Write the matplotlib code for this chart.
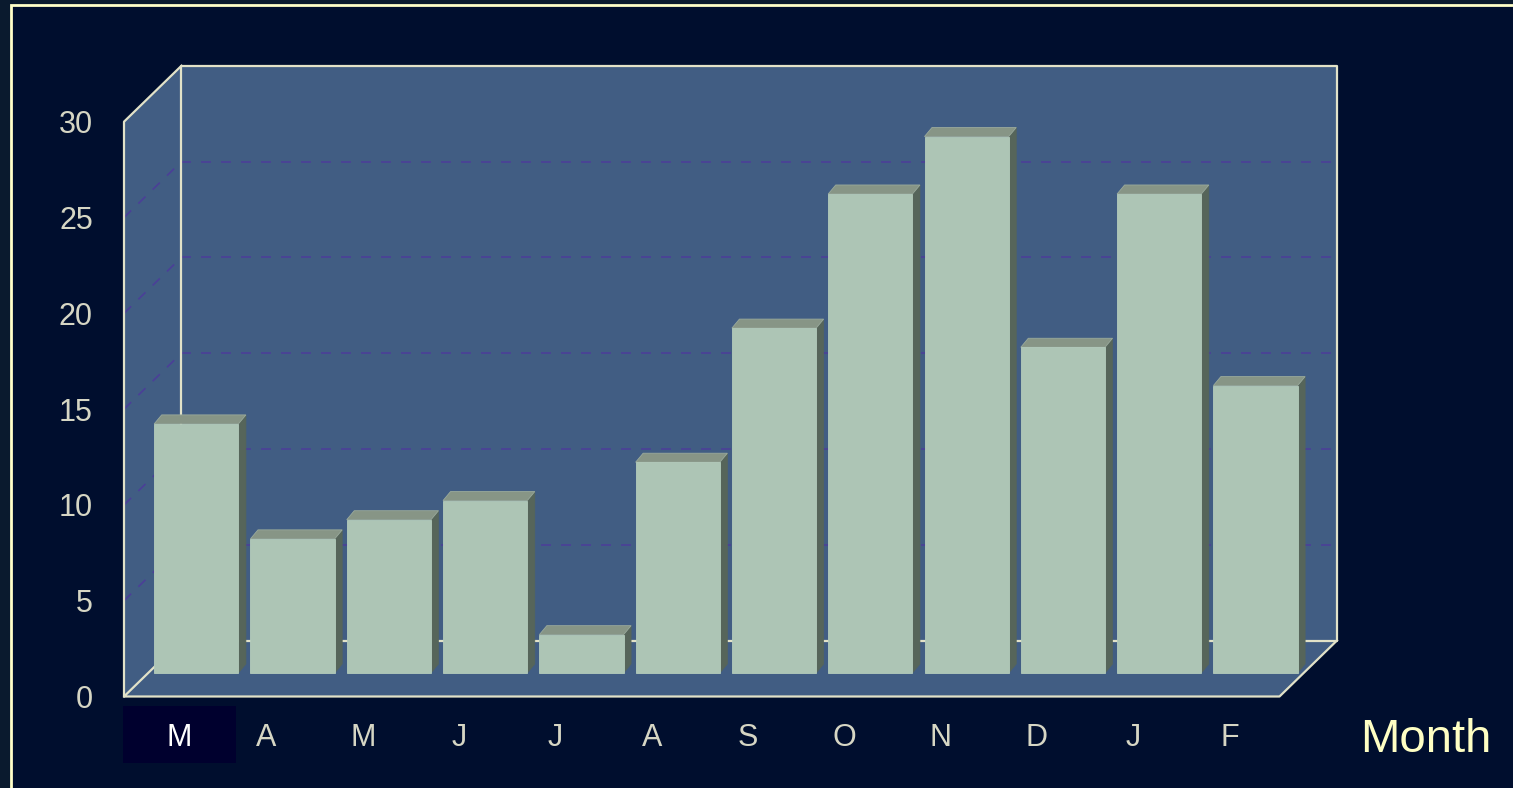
import matplotlib.pyplot as plt
from matplotlib.patches import Polygon, Rectangle

months = ['M', 'A', 'M', 'J', 'J', 'A', 'S', 'O', 'N', 'D', 'J', 'F']
counts = [13, 7, 8, 9, 2, 11, 18, 25, 28, 17, 25, 15]
y_ticks = [0, 5, 10, 15, 20, 25, 30]
x_title = 'Month'
selected = 0  # month label with the dark selection box

# layout in pixels
W, H = 1513, 788
FRONT_L, FRONT_R = 124, 1279.5
ZERO_Y, TOP_Y = 696.5, 121.7
YMAX = 30
DEPTH_PX = (57.5, 56.0)     # offset of the back wall
BAR_DEPTH = 0.42            # where the bars stand, as a fraction of the depth
BAR_THICK_PX = (7.5, 9.0)   # depth of each bar
BAR_W = 0.875

ux = (FRONT_R - FRONT_L) / len(months)   # px per category
uy = (ZERO_Y - TOP_Y) / YMAX             # px per unit
dx, dy = DEPTH_PX[0] / ux, DEPTH_PX[1] / uy
tx, ty = BAR_THICK_PX[0] / ux, BAR_THICK_PX[1] / uy

page = '#000e2e'
wall = '#415d83'
edge = '#e2e2c8'
grid = '#4b3f98'
front_c, top_c, side_c = '#adc5b5', '#879586', '#56655a'
label_c = '#d6d6c4'

fig = plt.figure(figsize=(W / 100, H / 100), dpi=100, facecolor='#0a1a2e')
fig.add_artist(Rectangle((10.5 / W, -0.05), 1.1, 1 - 4.5 / H + 0.05,
                         transform=fig.transFigure, facecolor=page,
                         edgecolor='#ffffc8', linewidth=2.0, zorder=0))

ax = fig.add_axes([0, 0, 1, 1])
ax.set_xlim(-0.5 - FRONT_L / ux, -0.5 + (W - FRONT_L) / ux)
ax.set_ylim(-(H - ZERO_Y) / uy, ZERO_Y / uy)
ax.axis('off')
ax.patch.set_alpha(0)

n = len(months)
x0, x1 = -0.5, n - 0.5

# walls: left side, floor and back
ax.add_patch(Polygon([(x0, 0), (x0, YMAX), (x0 + dx, YMAX + dy), (x0 + dx, dy)],
                     facecolor=wall, edgecolor='none', zorder=1))
ax.add_patch(Polygon([(x0, 0), (x0 + dx, dy), (x1 + dx, dy), (x1, 0)],
                     facecolor=wall, edgecolor='none', zorder=1))
ax.add_patch(Rectangle((x0 + dx, dy), x1 - x0, YMAX,
                       facecolor=wall, edgecolor='none', zorder=1))

# dashed gridlines on the back and side walls
for v in y_ticks[1:-1]:
    ax.plot([x0 + dx, x1 + dx], [v + dy, v + dy], color=grid, lw=1.2,
            dashes=(6, 6), zorder=2)
    ax.plot([x0, x0 + dx], [v, v + dy], color=grid, lw=1.2,
            dashes=(6, 6), zorder=2)

# wall outlines
lw = 1.6
ax.plot([x0 + dx, x1 + dx, x1 + dx, x0 + dx, x0 + dx],
        [dy, dy, YMAX + dy, YMAX + dy, dy], color=edge, lw=lw, zorder=3)
ax.plot([x0, x0, x0 + dx], [0, YMAX, YMAX + dy], color=edge, lw=lw, zorder=3)
ax.plot([x0 + dx, x0, x1, x1 + dx], [dy, 0, 0, dy], color=edge, lw=lw, zorder=3)

# bars
bx, by = BAR_DEPTH * dx, BAR_DEPTH * dy
for i, v in enumerate(counts):
    l = i - BAR_W / 2 + bx
    r = i + BAR_W / 2 + bx
    b, t = by, by + v
    ax.add_patch(Polygon([(r, b), (r + tx, b + ty), (r + tx, t + ty), (r, t)],
                         facecolor=side_c, edgecolor=side_c, lw=0.5, zorder=4))
    ax.add_patch(Polygon([(l, t), (l + tx, t + ty), (r + tx, t + ty), (r, t)],
                         facecolor=top_c, edgecolor='#9aaa9c', lw=0.6, zorder=4))
    ax.add_patch(Rectangle((l, b), r - l, v, facecolor=front_c,
                           edgecolor='#b4ccbc', lw=0.6, zorder=5))

font = 'Liberation Sans'

# value axis labels
for v in y_ticks:
    ax.text(x0 - 31 / ux, v - 11.5 / uy, str(v), ha='right', va='baseline',
            color=label_c, fontsize=22, family=font, zorder=6)

# month labels
base = -49.5 / uy
box_l, box_w = x0 - 1.3 / ux, 113 / ux
for i, m in enumerate(months):
    if i == selected:
        ax.add_patch(Rectangle((box_l, -66.5 / uy), box_w, 57 / uy,
                               facecolor='#00002e', edgecolor='none', zorder=5))
        ax.text(box_l + box_w / 2, base, m, ha='center', va='baseline',
                color='white', fontsize=22, family=font, zorder=6)
    else:
        ax.text(i - 0.02, base, m, ha='center', va='baseline',
                color=label_c, fontsize=22, family=font, zorder=6)

ax.text(x0 + (1360 - FRONT_L) / ux, -55.5 / uy, x_title, ha='left',
        va='baseline', color='#ffffc4', fontsize=34, family=font, zorder=6)

fig.savefig('out.png', dpi=100, facecolor=fig.get_facecolor())
